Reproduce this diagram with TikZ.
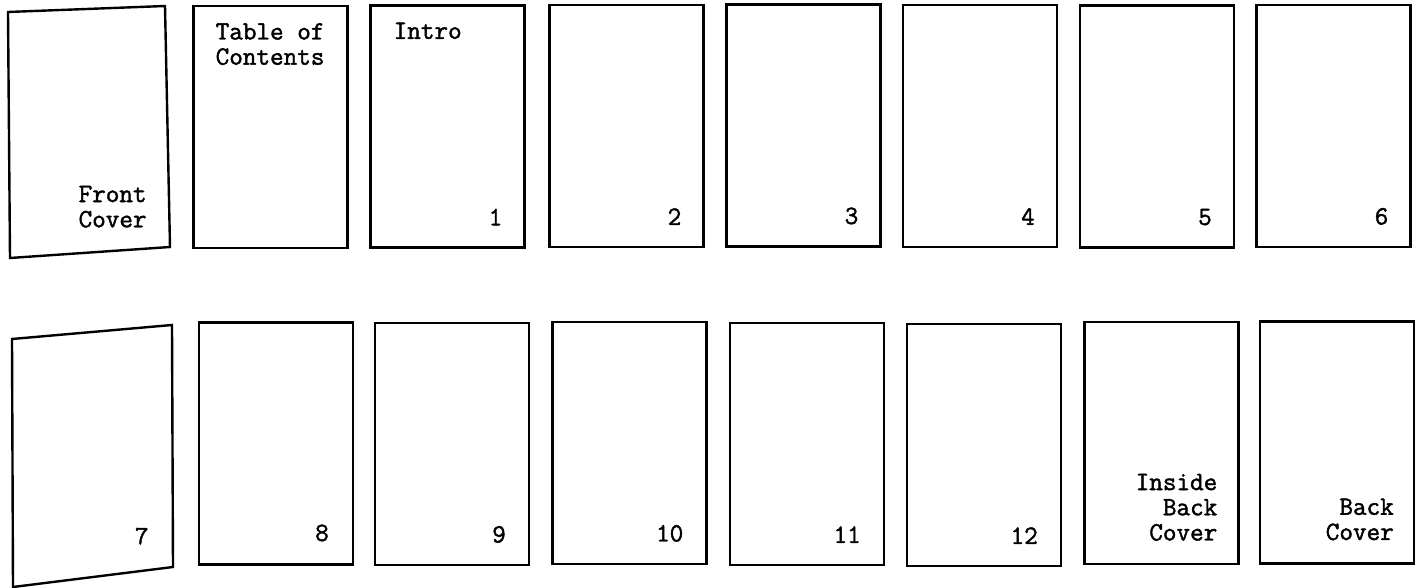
\documentclass[tikz,border=0pt]{standalone}
\usepackage{fontspec}
\usepackage{tikz}
\usetikzlibrary{calc}
\newfontfamily\labelfont[FakeBold=1.6]{Latin Modern Mono}

\begin{document}
\begin{tikzpicture}[
    x=0.5pt, y=-0.5pt,
    pagebox/.style={rectangle, draw, line width=1.2pt,
                    minimum width=77pt, minimum height=121pt, inner sep=0pt},
    pageedge/.style={draw, line width=1.2pt, line join=miter},
    pagelabel/.style={inner sep=0pt, align=right,
                      font=\labelfont\fontsize{13.2}{12.6}\selectfont},
    toplabel/.style={pagelabel, align=left}
  ]
  \useasboundingbox (0,0) rectangle (1421,588);

  % first row
  \coordinate (fc1) at (8,12);
  \coordinate (fc2) at (165,6);
  \coordinate (fc3) at (170,247);
  \coordinate (fc4) at (10,258);
  \draw[pageedge] (fc1) -- (fc2) -- (fc3) -- (fc4) -- cycle;
  \node[pagelabel, anchor=south east] (fclab) at (147,228) {Front\\Cover};

  \node[pagebox] (toc) at (270.5,127) {};
  \node[toplabel, anchor=north west] (toclab)
    at ([xshift=11.5pt,yshift=-9pt]toc.north west) {Table of\\Contents};

  \node[pagebox] (p1) at (447.5,126.5) {};
  \node[toplabel, anchor=north west] (introlab)
    at ([xshift=12pt,yshift=-9pt]p1.north west) {Intro};
  \node[pagelabel, anchor=south east] (p1lab)
    at ([xshift=-11.5pt,yshift=11.5pt]p1.south east) {1};

  \node[pagebox] (p2) at (626.5,126) {};
  \node[pagelabel, anchor=south east] (p2lab)
    at ([xshift=-11.5pt,yshift=11.5pt]p2.south east) {2};

  \node[pagebox] (p3) at (803.5,125.5) {};
  \node[pagelabel, anchor=south east] (p3lab)
    at ([xshift=-11.5pt,yshift=11.5pt]p3.south east) {3};

  \node[pagebox] (p4) at (980,126) {};
  \node[pagelabel, anchor=south east] (p4lab)
    at ([xshift=-11.5pt,yshift=11.5pt]p4.south east) {4};

  \node[pagebox] (p5) at (1157,126.5) {};
  \node[pagelabel, anchor=south east] (p5lab)
    at ([xshift=-11.5pt,yshift=11.5pt]p5.south east) {5};

  \node[pagebox] (p6) at (1333.5,126) {};
  \node[pagelabel, anchor=south east] (p6lab)
    at ([xshift=-11.5pt,yshift=11.5pt]p6.south east) {6};

  % second row
  \coordinate (s1) at (12,339);
  \coordinate (s2) at (172,325);
  \coordinate (s3) at (173,567);
  \coordinate (s4) at (13,587);
  \draw[pageedge] (s1) -- (s2) -- (s3) -- (s4) -- cycle;
  \node[pagelabel, anchor=south east] (p7lab) at (149,545) {7};

  \node[pagebox] (p8) at (276,443.5) {};
  \node[pagelabel, anchor=south east] (p8lab)
    at ([xshift=-12.5pt,yshift=12pt]p8.south east) {8};

  \node[pagebox] (p9) at (452,444) {};
  \node[pagelabel, anchor=south east] (p9lab)
    at ([xshift=-12pt,yshift=11.5pt]p9.south east) {9};

  \node[pagebox] (p10) at (629.5,443) {};
  \node[pagelabel, anchor=south east] (p10lab)
    at ([xshift=-12pt,yshift=11.5pt]p10.south east) {10};

  \node[pagebox] (p11) at (807,444) {};
  \node[pagelabel, anchor=south east] (p11lab)
    at ([xshift=-12pt,yshift=11.5pt]p11.south east) {11};

  \node[pagebox] (p12) at (984,445) {};
  \node[pagelabel, anchor=south east] (p12lab)
    at ([xshift=-12pt,yshift=11.5pt]p12.south east) {12};

  \node[pagebox] (ibc) at (1161.5,443) {};
  \node[pagelabel, anchor=south east] (ibclab)
    at ([xshift=-11pt,yshift=12pt]ibc.south east) {Inside\\Back\\Cover};

  \node[pagebox] (bc) at (1337,442.5) {};
  \node[pagelabel, anchor=south east] (bclab)
    at ([xshift=-10.5pt,yshift=12pt]bc.south east) {Back\\Cover};
\end{tikzpicture}
\end{document}
